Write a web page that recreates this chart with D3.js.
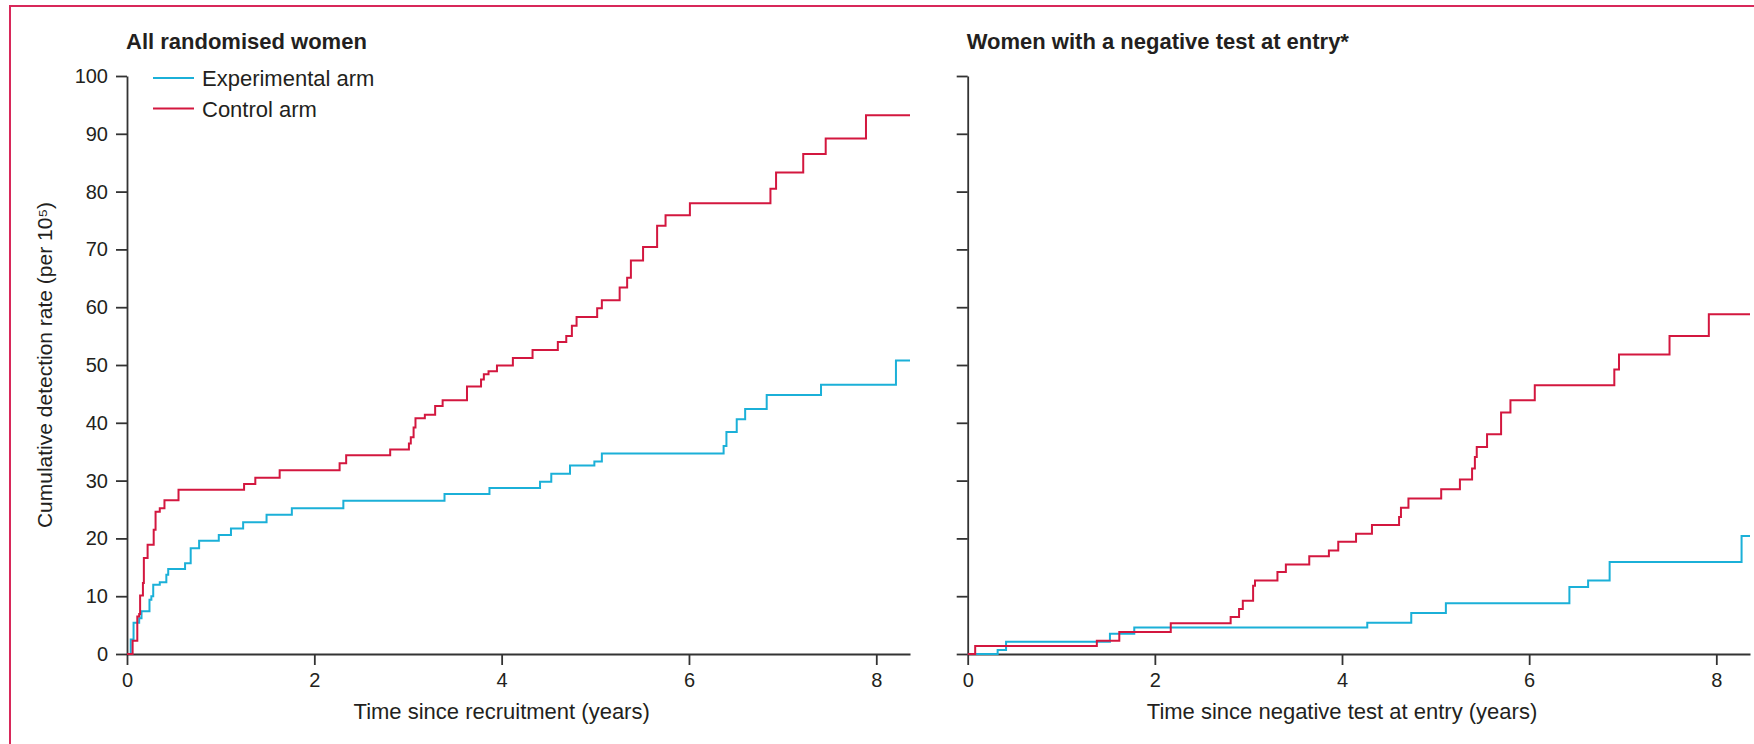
<!DOCTYPE html>
<meta charset="utf-8">
<style>

body {
  margin: 0;
  background: #fff;
}

text {
  font-family: "Liberation Sans", Arial, sans-serif;
  fill: #231f20;
}

.axis path,
.axis line {
  stroke: #333;
  stroke-width: 1.8px;
}

.axis text {
  font-size: 20px;
}

.title {
  font-size: 22px;
  font-weight: bold;
}

.label {
  font-size: 22px;
}

.ylabel {
  font-size: 21px;
}

.series {
  fill: none;
  stroke-width: 2px;
}

</style>
<svg width="1754" height="744"></svg>
<script src="https://d3js.org/d3.v7.min.js"></script>
<script>

// ticks
var yearTicks = [0, 2, 4, 6, 8];
var rateTicks = [0, 10, 20, 30, 40, 50, 60, 70, 80, 90, 100];
var followUpEnd = 8.36;

// all randomised women
var allExpTime = [0, 0.04, 0.07, 0.13, 0.155, 0.24, 0.26, 0.28, 0.35, 0.42, 0.44, 0.62, 0.68, 0.77, 0.98, 1.11, 1.24, 1.49, 1.76, 2.31, 3.39, 3.87, 4.41, 4.53, 4.73, 4.99, 5.07, 6.37, 6.40, 6.51, 6.60, 6.83, 7.41, 8.21, 8.36];
var allExpRate = [0, 2.5, 5.4, 6.2, 7.4, 9.4, 10.0, 12.0, 12.4, 13.7, 14.7, 15.7, 18.3, 19.6, 20.6, 21.7, 22.8, 24.1, 25.2, 26.5, 27.7, 28.7, 29.8, 31.2, 32.6, 33.3, 34.7, 36.0, 38.4, 40.6, 42.4, 44.8, 46.6, 50.8, 50.8];

var allCtlTime = [0, 0.06, 0.11, 0.13, 0.14, 0.17, 0.18, 0.22, 0.285, 0.305, 0.35, 0.40, 0.55, 1.25, 1.37, 1.63, 2.27, 2.34, 2.81, 3.01, 3.03, 3.06, 3.08, 3.18, 3.29, 3.37, 3.63, 3.78, 3.81, 3.86, 3.95, 4.12, 4.33, 4.60, 4.69, 4.75, 4.80, 5.02, 5.07, 5.26, 5.34, 5.38, 5.51, 5.66, 5.75, 6.01, 6.87, 6.93, 7.22, 7.46, 7.89, 8.36];
var allCtlRate = [0, 2.3, 6.5, 6.9, 10.1, 12.3, 16.6, 18.9, 21.5, 24.6, 25.2, 26.6, 28.4, 29.4, 30.5, 31.8, 33.0, 34.4, 35.4, 36.4, 37.5, 39.2, 40.8, 41.4, 42.9, 43.9, 46.3, 47.5, 48.4, 48.9, 49.9, 51.2, 52.6, 54.0, 55.0, 56.8, 58.3, 59.8, 61.2, 63.4, 65.1, 68.1, 70.4, 74.1, 75.9, 78.0, 80.5, 83.3, 86.5, 89.2, 93.2, 93.2];

// women with a negative test at entry
var negExpTime = [0, 0.32, 0.41, 1.52, 1.78, 4.27, 4.74, 5.11, 6.43, 6.63, 6.86, 8.27, 8.36];
var negExpRate = [0, 0.7, 2.1, 3.5, 4.6, 5.4, 7.1, 8.8, 11.6, 12.7, 15.9, 20.4, 20.4];

var negCtlTime = [0, 0.08, 1.38, 1.62, 2.17, 2.81, 2.90, 2.94, 3.05, 3.07, 3.31, 3.40, 3.65, 3.86, 3.96, 4.15, 4.32, 4.61, 4.63, 4.71, 5.06, 5.26, 5.39, 5.42, 5.44, 5.55, 5.70, 5.80, 6.06, 6.91, 6.96, 7.50, 7.92, 8.36];
var negCtlRate = [0, 1.4, 2.3, 3.8, 5.3, 6.4, 7.8, 9.2, 11.8, 12.7, 14.2, 15.5, 16.9, 17.9, 19.4, 20.8, 22.3, 23.7, 25.3, 26.9, 28.5, 30.2, 32.1, 34.1, 35.8, 38.0, 41.8, 43.9, 46.5, 49.2, 51.8, 55.0, 58.8, 58.8];

var armNames = ["Experimental arm", "Control arm"];
var armColors = ["#1bb0d8", "#d3173f"];

var svg = d3.select("svg");

// pink frame round the figure
svg.append("rect")
    .attr("x", 10)
    .attr("y", 6)
    .attr("width", 1800)
    .attr("height", 800)
    .attr("fill", "none")
    .attr("stroke", "#d8285a")
    .attr("stroke-width", 2);

var y = d3.scaleLinear().domain([0, 100]).range([654, 76]);

var panels = [
  {title: "All randomised women", xLabel: "Time since recruitment (years)",
   x0: 127, x1: 910, first: true,
   arms: [[allExpTime, allExpRate], [allCtlTime, allCtlRate]]},
  {title: "Women with a negative test at entry*", xLabel: "Time since negative test at entry (years)",
   x0: 967.7, x1: 1750, first: false,
   arms: [[negExpTime, negExpRate], [negCtlTime, negCtlRate]]}
];

panels.forEach(function(p) {
  var x = d3.scaleLinear().domain([0, followUpEnd]).range([p.x0, p.x1]);

  svg.append("g")
      .attr("class", "axis")
      .attr("transform", "translate(0," + y(0) + ")")
      .call(d3.axisBottom(x).tickValues(yearTicks).tickSize(11).tickSizeOuter(0).tickPadding(8));

  svg.append("g")
      .attr("class", "axis")
      .attr("transform", "translate(" + x(0) + ",0)")
      .call(d3.axisLeft(y).tickValues(rateTicks).tickSize(11).tickSizeOuter(0).tickPadding(8)
        .tickFormat(p.first ? d3.format("d") : ""));

  var line = d3.line()
      .curve(d3.curveStepAfter)
      .x(function(d) { return x(d[0]); })
      .y(function(d) { return y(d[1]); });

  p.arms.forEach(function(arm, i) {
    var pts = arm[0].map(function(t, j) { return [t, arm[1][j]]; });
    svg.append("path")
        .attr("class", "series")
        .attr("stroke", armColors[i])
        .attr("d", line(pts));
  });

  svg.append("text")
      .attr("class", "title")
      .attr("x", x(0) - 1)
      .attr("y", 49)
      .text(p.title);

  svg.append("text")
      .attr("class", "label")
      .attr("x", x(4))
      .attr("y", 719)
      .attr("text-anchor", "middle")
      .text(p.xLabel);

  if (p.first) {
    svg.append("text")
        .attr("class", "ylabel")
        .attr("transform", "translate(52," + y(50) + ") rotate(-90)")
        .attr("text-anchor", "middle")
        .text("Cumulative detection rate (per 10\u2075)");

    var legend = svg.append("g")
        .selectAll("g")
        .data(armNames)
        .enter().append("g")
        .attr("transform", function(d, i) { return "translate(153," + (78 + i * 30.5) + ")"; });

    legend.append("line")
        .attr("x1", 0)
        .attr("x2", 41)
        .attr("stroke", function(d, i) { return armColors[i]; })
        .attr("stroke-width", 2);

    legend.append("text")
        .attr("class", "label")
        .attr("x", 49)
        .attr("y", 8)
        .text(function(d) { return d; });
  }
});

</script>
